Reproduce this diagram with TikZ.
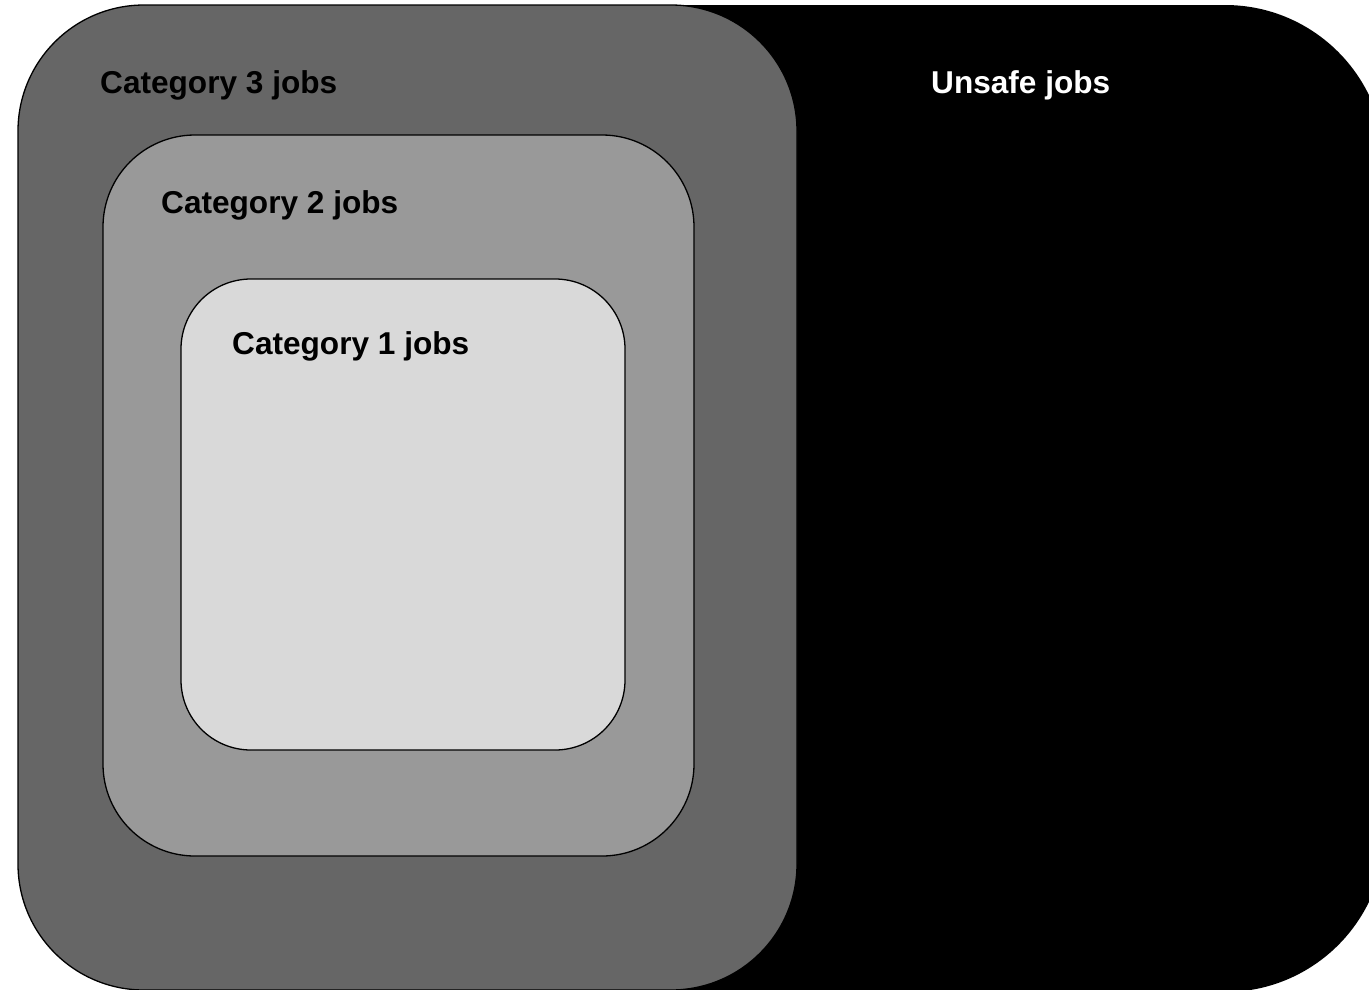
\documentclass[tikz,border=0pt]{standalone}
\usepackage{fontspec}
\setmainfont{Liberation Sans}
\definecolor{catthree}{HTML}{666666}
\definecolor{cattwo}{HTML}{999999}
\definecolor{catone}{HTML}{D9D9D9}
\begin{document}
\begin{tikzpicture}[x=1pt,y=-1pt,
  region/.style={draw=black,line width=1.3pt},
  label/.style={anchor=base west,inner sep=0pt,font=\fontsize{31.6}{38}\selectfont\bfseries}]
\useasboundingbox (0,0) rectangle (1369,989);
\clip (0,0) rectangle (1369,989);
% unsafe jobs
\fill[black,rounded corners=160pt] (300,5) rectangle (1385,992);
% nested job categories
\filldraw[region,fill=catthree,rounded corners=126pt] (18,5) rectangle (797,990);
\filldraw[region,fill=cattwo,rounded corners=92pt] (103,135) rectangle (694,856);
\filldraw[region,fill=catone,rounded corners=70pt] (181,279) rectangle (625,750);
\node[label,text=black] (c3) at (100,93) {Category 3 jobs};
\node[label,text=black] (c2) at (161,213) {Category 2 jobs};
\node[label,text=black] (c1) at (232,354) {Category 1 jobs};
\node[label,text=white] (un) at (931,93) {Unsafe jobs};
\end{tikzpicture}
\end{document}
